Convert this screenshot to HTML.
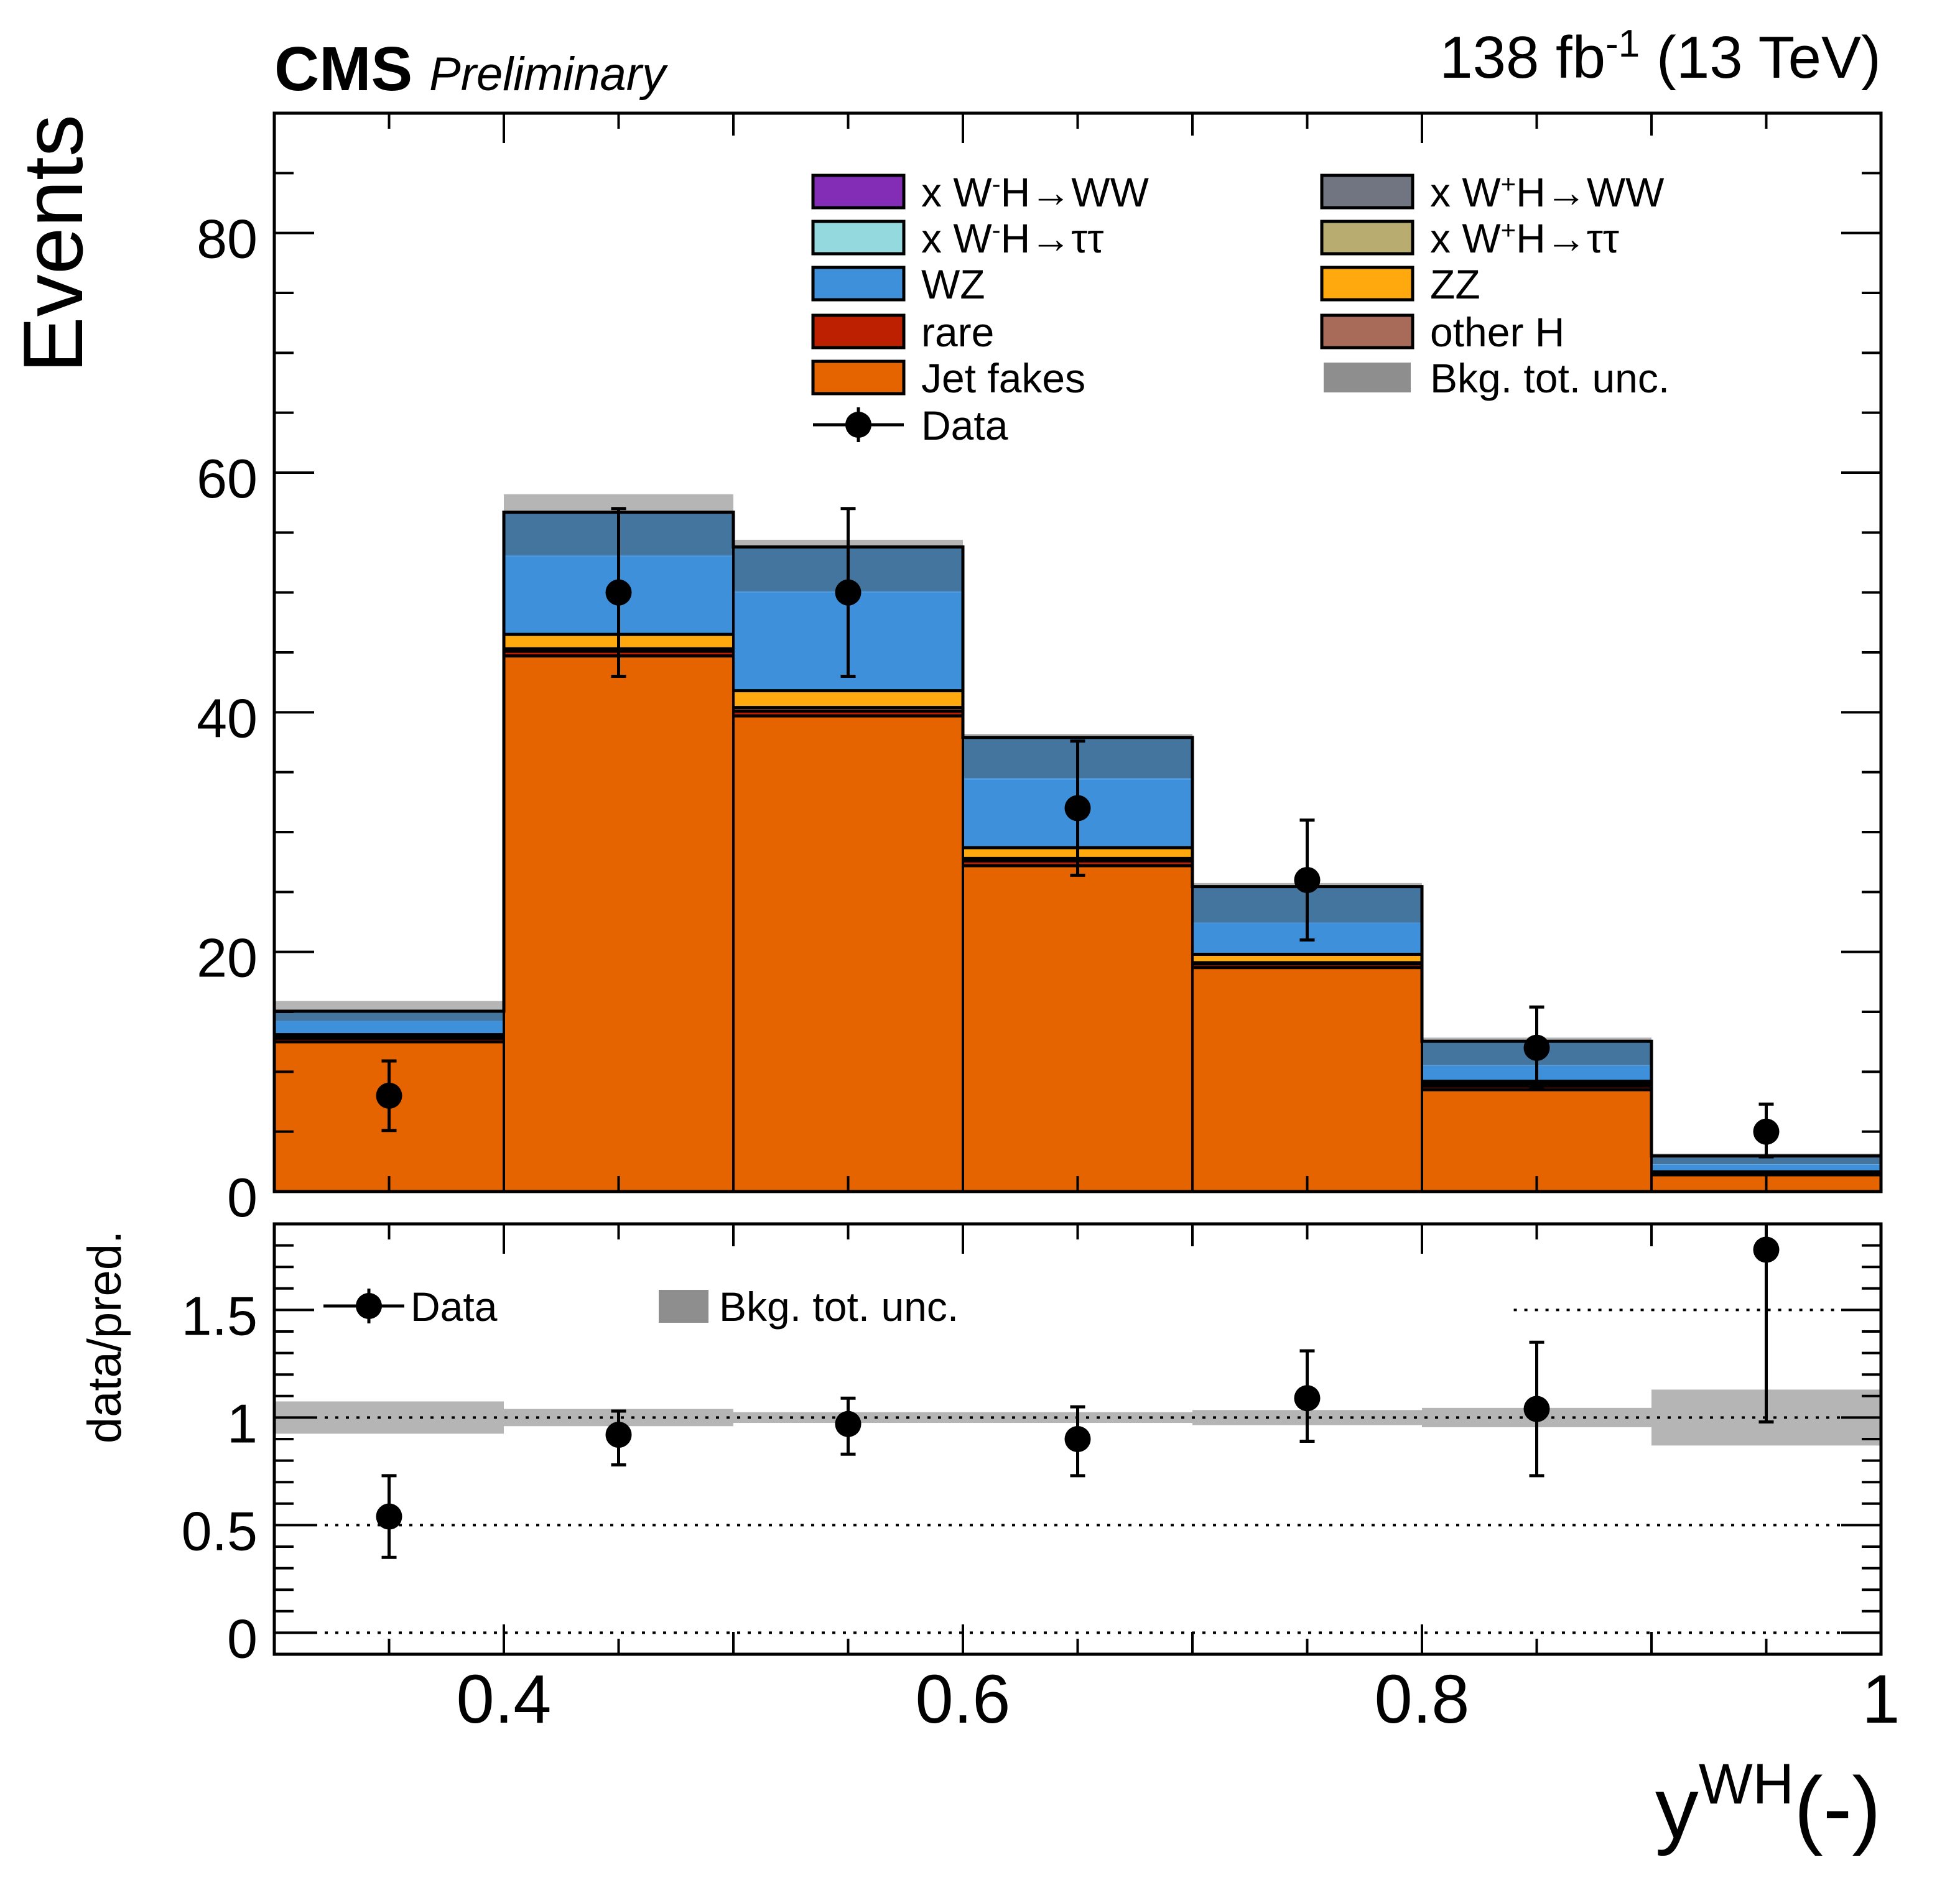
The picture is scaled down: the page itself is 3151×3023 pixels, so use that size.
<!DOCTYPE html>
<html><head><meta charset="utf-8"><style>
html,body{margin:0;padding:0;background:#fff}
svg{display:block;font-family:"Liberation Sans",Arial,sans-serif}
</style></head><body>
<svg id="chart" xmlns="http://www.w3.org/2000/svg" width="3151" height="3023" viewBox="0 0 3151 3023">
<g id="main"></g>
<g id="ratio"></g>
<g id="labels">
<text x="441" y="145" font-size="100" font-weight="bold">CMS</text>
<text x="690" y="145" font-size="76" font-style="italic">Preliminary</text>
<text x="3024" y="125" font-size="96" text-anchor="end">138 fb<tspan dy="-34" font-size="62">-1</tspan><tspan dy="34"> (13 TeV)</tspan></text>
<text transform="translate(132,392) rotate(-90)" font-size="136" text-anchor="middle">Events</text>
<text transform="translate(194,2150) rotate(-90)" font-size="76" text-anchor="middle">data/pred.</text>
<text x="3024" y="2955" font-size="140" text-anchor="end">y<tspan dy="-55" font-size="92">WH</tspan><tspan dy="55">(-)</tspan></text>
</g>
<g id="legend"></g>
</svg>
<script>
const binEdges=[0.3,0.4,0.5,0.6,0.7,0.8,0.9,1.0];
const jetFakes=[12.5,44.7,39.7,27.2,18.7,8.5,1.4];
const rare=[0.3,0.4,0.4,0.4,0.3,0.3,0.1];
const otherH=[0.1,0.2,0.3,0.2,0.1,0.2,0.05];
const zz=[0.2,1.2,1.4,0.9,0.7,0.2,0.1];
const wz=[1.1,6.5,8.2,5.7,2.6,1.3,0.6];
const whTT=[0.05,0.1,0.1,0.1,0.05,0.05,0.02];
const whWW=[0.8,3.6,3.7,3.4,3.0,2.0,0.7];
const bkgUnc=[0.85,1.5,0.6,0.3,0.3,0.3,0.2];
const dataVals=[8,50,50,32,26,12,5];
const dataLo=[2.9,7,7,5.6,5,3.4,2.1];
const dataHi=[2.9,7,7,5.6,5,3.4,2.3];
const ratioVals=[0.54,0.92,0.97,0.90,1.09,1.04,1.78];
const ratioLo=[0.19,0.14,0.14,0.17,0.20,0.31,0.80];
const ratioHi=[0.19,0.11,0.12,0.15,0.22,0.31,0.20];
const ratioUnc=[0.075,0.04,0.025,0.025,0.035,0.045,0.13];
const yTicksMain=[0,20,40,60,80];
const yTicksRatio=[0,0.5,1,1.5];
const yTickLabelsRatio=["0","0.5","1","1.5"];
const xTicks=[0.4,0.6,0.8,1.0];
const xTickLabels=["0.4","0.6","0.8","1"];

const NS="http://www.w3.org/2000/svg";
const L=441,R=3024,MT=182,MB=1916,RT=1968,RB=2660;
const X=v=>L+(v-0.3)/0.7*(R-L);
const YM=v=>MB-v/90*(MB-MT);
const YR=v=>RB-(v+0.1)/2.0*(RB-RT);
function mk(tag,attrs,parent){const e=document.createElementNS(NS,tag);for(const k in attrs)e.setAttribute(k,attrs[k]);parent.appendChild(e);return e;}
const main=document.getElementById('main'),ratio=document.getElementById('ratio'),leg=document.getElementById('legend');

const layers=[[jetFakes,'#e56400','jet-fakes',true],[rare,'#bd1f01','rare',true],[otherH,'#a96b59','other-h',true],[zz,'#ffa90e','zz',true],[wz,'#3f90da','wz',false],[whTT,'#3f90da','wh-tautau',false],[whWW,'#44759f','wh-ww',false]];
const totals=[];
for(let i=0;i<7;i++){let t=0;for(const l of layers)t+=l[0][i];totals.push(t);}
// uncertainty band behind stack
for(let i=0;i<7;i++){
  const x0=X(binEdges[i]),x1=X(binEdges[i+1]);
  const u=mk('rect',{x:x0,y:YM(totals[i]+bkgUnc[i]),width:x1-x0,height:YM(totals[i]-bkgUnc[i])-YM(totals[i]+bkgUnc[i]),fill:'#b5b5b5'},main);
  
  
}
for(let i=0;i<7;i++){
  let base=0;
  const x0=X(binEdges[i]),x1=X(binEdges[i+1]);
  const edges=[];
  for(const [arr,col,nm,edge] of layers){
    const top=base+arr[i];
    const r=mk('rect',{x:x0,y:YM(top),width:x1-x0,height:YM(base)-YM(top),fill:col},main);
    
    
    if(edge)edges.push(top);
    base=top;
  }
  edges.forEach(v=>{const ln=mk('line',{x1:x0,x2:x1,y1:YM(v),y2:YM(v),stroke:'#000','stroke-width':5},main);});
}
let d='M'+X(0.3)+','+YM(0);
for(let i=0;i<7;i++){d+=' L'+X(binEdges[i])+','+YM(totals[i])+' L'+X(binEdges[i+1])+','+YM(totals[i]);}
d+=' L'+X(1)+','+YM(0);
const ol=mk('path',{d:d,fill:'none',stroke:'#000','stroke-width':5},main);

for(let i=1;i<7;i++){
  const vl=mk('line',{x1:X(binEdges[i]),x2:X(binEdges[i]),y1:YM(0),y2:YM(Math.max(totals[i],totals[i-1])),stroke:'#000','stroke-width':4},main);
  
}
function errPoint(g,cx,cy,ylo,yhi,name){
  const grp=mk('g',{},g);
  
  
  mk('line',{x1:cx,x2:cx,y1:ylo,y2:yhi,stroke:'#000','stroke-width':5},grp);
  mk('line',{x1:cx-12,x2:cx+12,y1:ylo,y2:ylo,stroke:'#000','stroke-width':5},grp);
  mk('line',{x1:cx-12,x2:cx+12,y1:yhi,y2:yhi,stroke:'#000','stroke-width':5},grp);
  mk('circle',{cx:cx,cy:cy,r:21,fill:'#000'},grp);
}
for(let i=0;i<7;i++){
  const cx=(X(binEdges[i])+X(binEdges[i+1]))/2;
  errPoint(main,cx,YM(dataVals[i]),YM(dataVals[i]-dataLo[i]),YM(dataVals[i]+dataHi[i]),'data-point-bin'+(i+1));
}
function frame(g,t,b,name){const r=mk('rect',{x:L,y:t,width:R-L,height:b-t,fill:'none',stroke:'#000','stroke-width':5},g);}
frame(main,MT,MB,'main-frame');
function xTicksDraw(g,t,b){
  for(let k=0;k<=14;k++){const v=0.3+k*0.05;const m=Math.round(v*100);const len=(m%20===0)?48:(m%10===0?36:25);
    const x=X(v);
    const a=mk('line',{x1:x,x2:x,y1:b,y2:b-len,stroke:'#000','stroke-width':4},g);
    const c=mk('line',{x1:x,x2:x,y1:t,y2:t+len,stroke:'#000','stroke-width':4},g);}
}
xTicksDraw(main,MT,MB);
for(let v=0;v<=90;v+=5){const major=v%20===0;const len=major?64:31;const y=YM(v);
  const a=mk('line',{x1:L,x2:L+len,y1:y,y2:y,stroke:'#000','stroke-width':4},main);
  const b=mk('line',{x1:R,x2:R-len,y1:y,y2:y,stroke:'#000','stroke-width':4},main);}
yTicksMain.forEach(v=>{const t=mk('text',{x:414,y:YM(v)+40,'font-size':88,'text-anchor':'end'},main);t.textContent=String(v);});

for(let i=0;i<7;i++){
  const x0=X(binEdges[i]),x1=X(binEdges[i+1]);
  const u=mk('rect',{x:x0,y:YR(1+ratioUnc[i]),width:x1-x0,height:YR(1-ratioUnc[i])-YR(1+ratioUnc[i]),fill:'#b5b5b5'},ratio);
  
}
[0,0.5,1].forEach(v=>{const l=mk('line',{x1:L+64,x2:R-64,y1:YR(v),y2:YR(v),stroke:'#000','stroke-width':4,'stroke-dasharray':'5,12'},ratio);});
{const l=mk('line',{x1:X(0.84),x2:R-64,y1:YR(1.5),y2:YR(1.5),stroke:'#000','stroke-width':4,'stroke-dasharray':'5,12'},ratio);}
for(let i=0;i<7;i++){
  const cx=(X(binEdges[i])+X(binEdges[i+1]))/2;
  errPoint(ratio,cx,YR(ratioVals[i]),YR(ratioVals[i]-ratioLo[i]),Math.max(RT,YR(ratioVals[i]+ratioHi[i])),'ratio-point-bin'+(i+1));
}
frame(ratio,RT,RB,'ratio-frame');
xTicksDraw(ratio,RT,RB);
for(let k=-1;k<=19;k++){const v=k/10;const major=k%5===0;const len=major?64:31;const y=YR(v);
  const a=mk('line',{x1:L,x2:L+len,y1:y,y2:y,stroke:'#000','stroke-width':4},ratio);
  const b=mk('line',{x1:R,x2:R-len,y1:y,y2:y,stroke:'#000','stroke-width':4},ratio);}
yTicksRatio.forEach((v,i)=>{const t=mk('text',{x:414,y:YR(v)+40,'font-size':88,'text-anchor':'end'},ratio);t.textContent=yTickLabelsRatio[i];});
xTicks.forEach((v,i)=>{const t=mk('text',{x:X(v),y:2770,'font-size':110,'text-anchor':'middle'},ratio);t.textContent=xTickLabels[i];});

const legItems=[
 [1307,308,'#832db6','x W<tspan dy="-22" font-size="42">-</tspan><tspan dy="22">H→WW</tspan>','legend-wminus-h-ww'],
 [2125,308,'#717581','x W<tspan dy="-22" font-size="42">+</tspan><tspan dy="22">H→WW</tspan>','legend-wplus-h-ww'],
 [1307,382,'#94d9de','x W<tspan dy="-22" font-size="42">-</tspan><tspan dy="22">H→ττ</tspan>','legend-wminus-h-tautau'],
 [2125,382,'#b9ac70','x W<tspan dy="-22" font-size="42">+</tspan><tspan dy="22">H→ττ</tspan>','legend-wplus-h-tautau'],
 [1307,456,'#3f90da','WZ','legend-wz'],
 [2125,456,'#ffa90e','ZZ','legend-zz'],
 [1307,533,'#bd1f01','rare','legend-rare'],
 [2125,533,'#a96b59','other H','legend-other-h'],
 [1307,607,'#e56400','Jet fakes','legend-jet-fakes'],
 [2125,607,'#8e8e8e','Bkg. tot. unc.','legend-bkg-unc']];
legItems.forEach(([x,y,c,txt,nm])=>{
  const g=mk('g',{},leg);
  
  
  if(nm==='legend-bkg-unc')mk('rect',{x:x+3,y:y-24,width:140,height:48,fill:c},g);
  else mk('rect',{x:x,y:y-26,width:146,height:52,fill:c,stroke:'#000','stroke-width':5},g);
  const t=mk('text',{x:x+174,y:y+24,'font-size':66},g);t.innerHTML=txt;
});
{const g=mk('g',{},leg);
 mk('line',{x1:1307,x2:1453,y1:683,y2:683,stroke:'#000','stroke-width':5},g);
 mk('line',{x1:1380,x2:1380,y1:655,y2:711,stroke:'#000','stroke-width':5},g);
 mk('circle',{cx:1380,cy:683,r:21,fill:'#000'},g);
 const t=mk('text',{x:1481,y:707,'font-size':66},g);t.textContent='Data';}
{const g=mk('g',{},leg);
 mk('line',{x1:520,x2:650,y1:2100,y2:2100,stroke:'#000','stroke-width':5},g);
 mk('line',{x1:593,x2:593,y1:2072,y2:2128,stroke:'#000','stroke-width':5},g);
 mk('circle',{cx:593,cy:2100,r:21,fill:'#000'},g);
 const t=mk('text',{x:660,y:2124,'font-size':66},g);t.textContent='Data';}
{const g=mk('g',{},leg);
 mk('rect',{x:1059,y:2074,width:80,height:53,fill:'#8e8e8e'},g);
 const t=mk('text',{x:1156,y:2124,'font-size':66},g);t.textContent='Bkg. tot. unc.';}
</script>
</body></html>
